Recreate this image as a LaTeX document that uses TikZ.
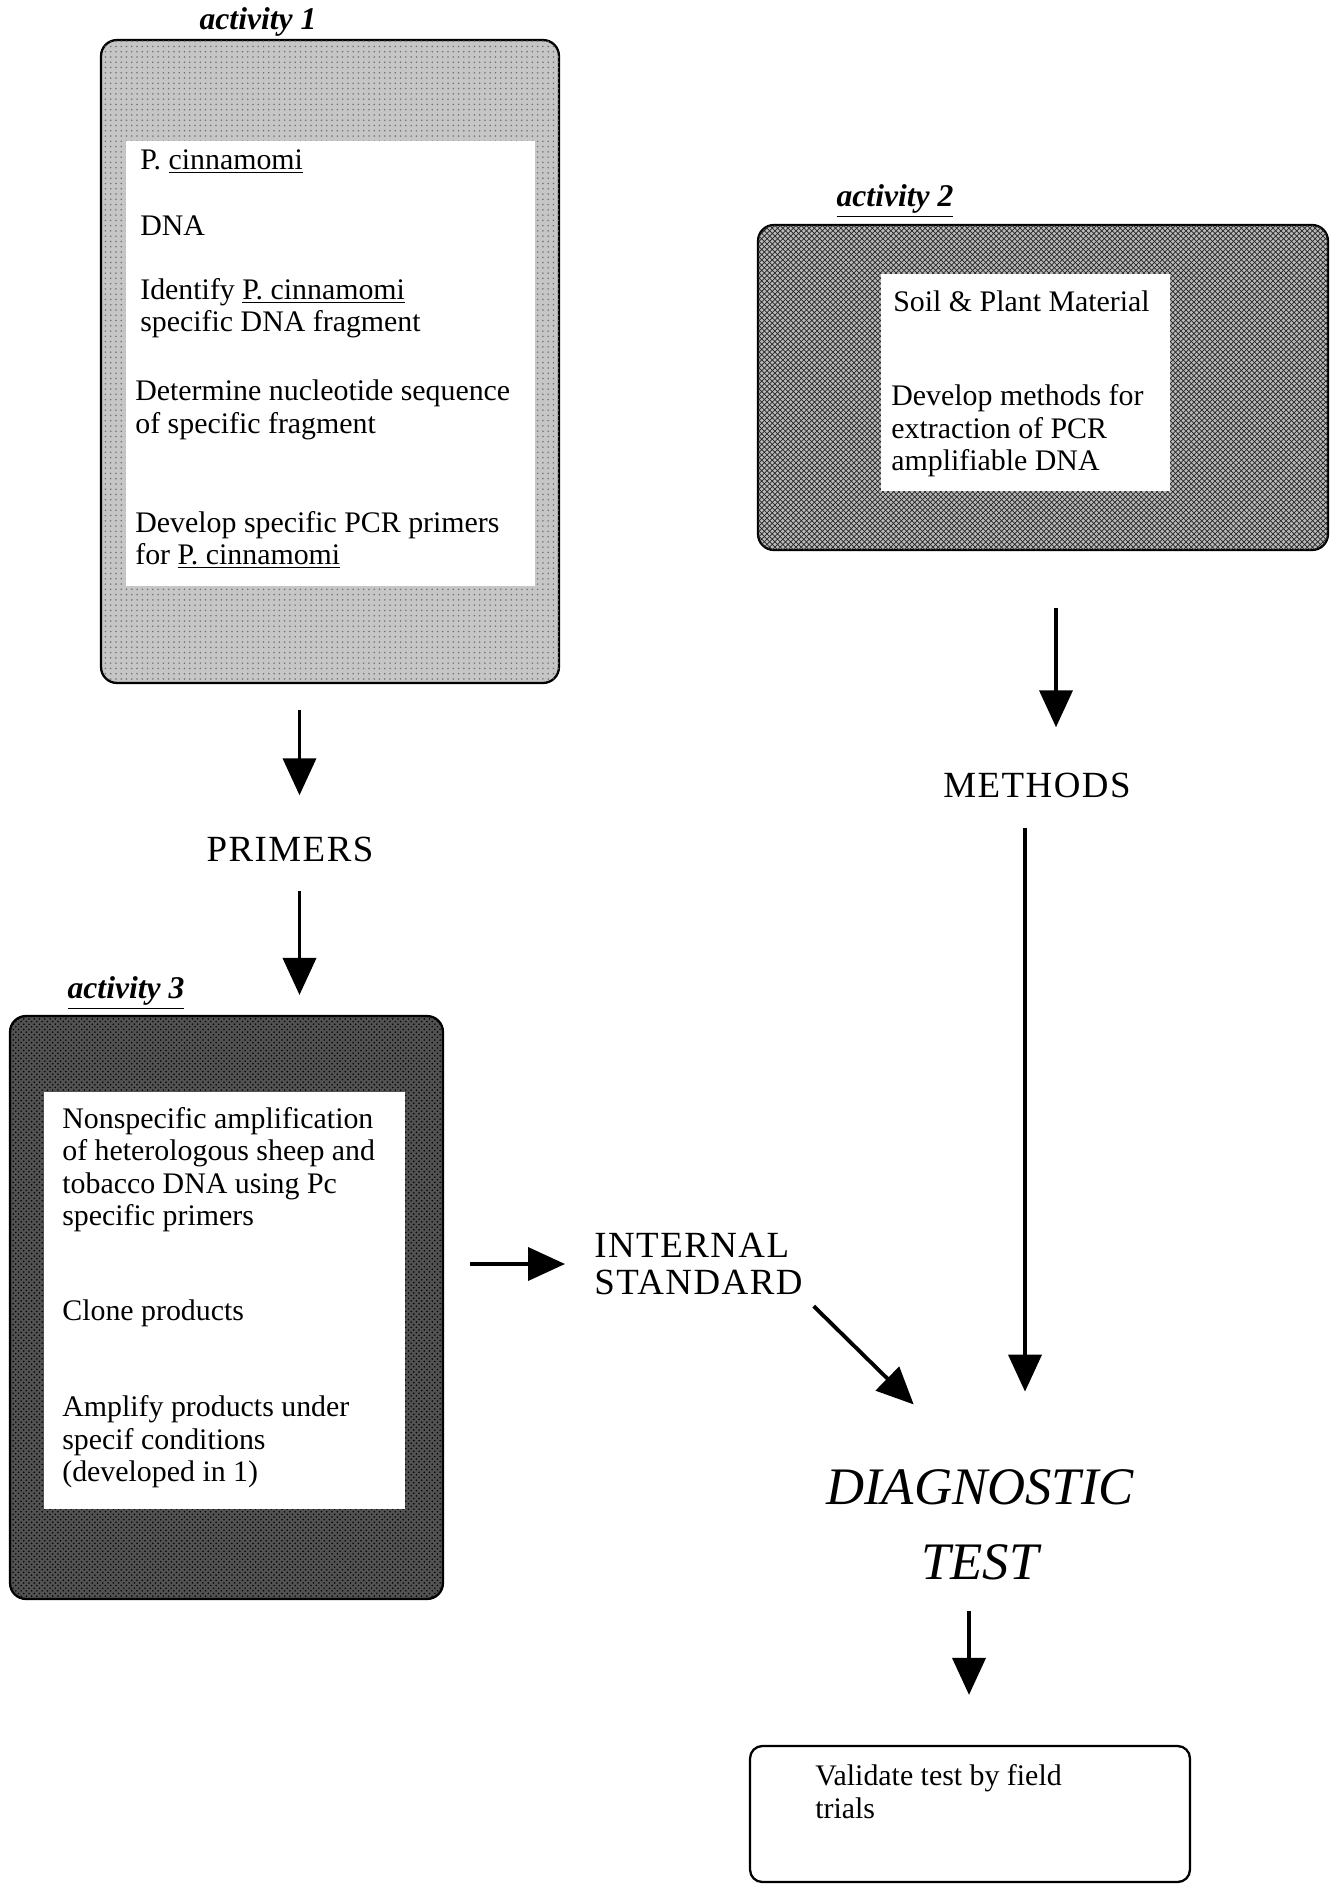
\documentclass[tikz,border=0pt]{standalone}
\usepackage{fontspec}
\setmainfont{Liberation Serif}
\newfontfamily\capsfont[LetterSpace=4]{Liberation Serif}
\usetikzlibrary{positioning,arrows.meta,patterns,calc}
\newcommand\bodytext{\fontsize{17}{18.5}\selectfont}

\begin{document}
\begin{tikzpicture}[
    x=0.02cm, y=-0.02cm,
    actbox/.style={rectangle, rounded corners=9pt, draw=black, line width=1.3pt, inner sep=0pt},
    texture1/.style={actbox, fill=gray!45, postaction={pattern=dots, pattern color=black!55}},
    texture2/.style={actbox, fill=gray!55, postaction={pattern=crosshatch, pattern color=black!85}},
    texture3/.style={actbox, fill=black!68, postaction={pattern=crosshatch dots, pattern color=black}},
    inbox/.style={rectangle, fill=white, draw=none, inner sep=0pt},
    txt/.style={anchor=west, align=left, inner sep=0pt, font=\bodytext},
    actlabel/.style={inner sep=0pt, font=\fontsize{18}{20}\selectfont\bfseries\itshape},
    result/.style={inner sep=0pt, align=left, font=\fontsize{21}{21.5}\selectfont\capsfont},
    flow/.style={-{Triangle[width=0.66cm, length=0.74cm]}, line width=2.2pt},
]
\useasboundingbox (0,0) rectangle (1330,1886);

% Activity 1
\node[actlabel] (lab1) at (258,22) {activity 1};
\node[texture1, minimum width=9.16cm, minimum height=12.86cm] (box1) at (330,361.5) {};
\node[inbox, minimum width=8.18cm, minimum height=8.9cm] (in1) at (330.5,363.5) {};
\node[txt] (t1a) at (140,162) {P. \underline{cinnamomi}};
\node[txt] (t1b) at (140,226) {DNA};
\node[txt] (t1c) at (140,308) {Identify \underline{P. cinnamomi}\\specific DNA fragment};
\node[txt] (t1d) at (135,410) {Determine nucleotide sequence\\of specific fragment};
\node[txt] (t1e) at (135,540) {Develop specific PCR primers\\for \underline{P. cinnamomi}};

\node[result] (primers) at (290,849) {PRIMERS};

% Activity 2
\node[actlabel] (lab2) at (895,201) {\underline{activity 2}};
\node[texture2, minimum width=11.4cm, minimum height=6.5cm] (box2) at (1043,387.5) {};
\node[inbox, minimum width=5.78cm, minimum height=4.34cm] (in2) at (1025.5,382.5) {};
\node[txt] (t2a) at (893,301) {Soil \& Plant Material};
\node[txt] (t2b) at (891,431) {Develop methods for\\extraction of PCR\\amplifiable DNA};

\node[result] (methods) at (1037,785) {METHODS};

% Activity 3
\node[actlabel] (lab3) at (126,993) {\underline{activity 3}};
\node[texture3, minimum width=8.66cm, minimum height=11.66cm] (box3) at (226.5,1307.5) {};
\node[inbox, minimum width=7.22cm, minimum height=8.34cm] (in3) at (224.5,1300.5) {};
\node[txt] (t3a) at (62,1169.5) {Nonspecific amplification\\of heterologous sheep and\\tobacco DNA using Pc\\specific primers};
\node[txt] (t3b) at (62,1313) {Clone products};
\node[txt] (t3c) at (62,1442) {Amplify products under\\specif conditions\\(developed in 1)};

\node[result, anchor=west] (instd) at (594,1264) {INTERNAL\\STANDARD};

% Test and validation
\node[inner sep=0pt, align=center, font=\fontsize{30}{42.5}\selectfont\itshape] (diag) at (980,1525) {DIAGNOSTIC\\TEST};
\node[actbox, rounded corners=7pt, minimum width=8.8cm, minimum height=2.72cm] (valbox) at (970,1814) {};
\node[txt] (valtxt) at (815,1791.5) {Validate test by field\\trials};

% Arrows
\draw[flow, shorten <=0.52cm, shorten >=0.82cm] ([xshift=0.19cm]primers |- box1.south) -- ([xshift=0.19cm]primers.north);
\draw[flow, shorten <=0.58cm, shorten >=0.4cm] ([xshift=0.19cm]primers.south) -- ([xshift=0.19cm]primers.south |- box3.north);
\draw[flow, shorten <=1.14cm, shorten >=0.9cm] ([xshift=0.38cm]methods |- box2.south) -- ([xshift=0.38cm]methods.north);
\draw[flow, shorten <=0.52cm, shorten >=0.58cm] (box3.east |- instd.west) -- (instd.west);
\draw[flow, shorten <=0.3cm, shorten >=1.86cm] (instd.south east) -- (diag.north);
\draw[flow, shorten <=0.6cm, shorten >=1.56cm] ([xshift=-0.24cm]methods.south) -- ([xshift=-0.24cm]methods.south |- diag.north);
\draw[flow, shorten <=0.62cm, shorten >=1.0cm] ([xshift=-0.22cm]diag.south) -- ([xshift=-0.22cm]diag.south |- valbox.north);

\end{tikzpicture}
\end{document}
